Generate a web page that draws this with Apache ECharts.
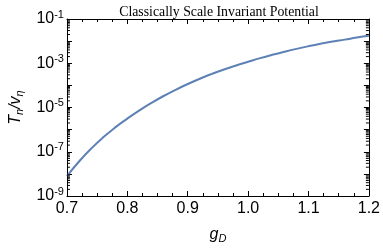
<!DOCTYPE html>
<html><head><meta charset="utf-8">
<script src="https://cdn.jsdelivr.net/npm/echarts@6/dist/echarts.min.js"></script>
<style>html,body{margin:0;padding:0;background:#fff}#c{width:383px;height:249px}</style>
</head><body><div id="c"></div>
<script>
const gD = [0.70,0.72,0.74,0.76,0.78,0.80,0.82,0.84,0.86,0.88,0.90,0.92,0.94,0.96,0.98,1.00,1.02,1.04,1.06,1.08,1.10,1.12,1.14,1.16,1.18,1.20];
const TnOverV = [7.94e-9,3.63e-8,1.38e-7,4.47e-7,1.26e-6,3.16e-6,7.41e-6,1.62e-5,3.31e-5,6.31e-5,1.15e-4,2.00e-4,3.31e-4,5.25e-4,7.94e-4,1.17e-3,1.70e-3,2.40e-3,3.31e-3,4.47e-3,5.89e-3,7.59e-3,9.55e-3,1.17e-2,1.45e-2,1.74e-2];
const xTicks = ['0.7','0.8','0.9','1.0','1.1','1.2'];
const yDecades = [-9,-8,-7,-6,-5,-4,-3,-2,-1];
const minorMult = [2,3,4,5,6,7,8,9];

const minorVals = [];
for (let i = 0; i < yDecades.length - 1; i++) for (const m of minorMult) minorVals.push([gD[0], m * Math.pow(10, yDecades[i])]);

const chart = echarts.init(document.getElementById('c'));
const labelFont = 'Liberation Sans';
chart.setOption({
  animation: false,
  title: {text: 'Classically Scale Invariant Potential', left: 214, textAlign: 'center', top: 0,
    textStyle: {fontFamily: 'Liberation Serif', fontSize: 13.8, fontWeight: 'normal', color: '#000'}},
  grid: {left: 53, right: 11, top: 19, bottom: 41},
  xAxis: [{
    type: 'value', min: 0.7, max: 1.2, interval: 0.1,
    axisLine: {show: true, onZero: false, lineStyle: {color: '#000', width: 1}},
    axisTick: {show: true, inside: true, length: 5, lineStyle: {color: '#000'}},
    minorTick: {show: true, splitNumber: 4, length: 3, lineStyle: {color: '#000'}},
    splitLine: {show: false},
    axisLabel: {margin: 5, fontFamily: labelFont, fontSize: 16, color: '#000',
      formatter: v => { const s = v.toFixed(1); return xTicks.includes(s) ? s : ''; }},
    name: '{i|g}{s|D}', nameLocation: 'middle', nameGap: 29,
    nameTextStyle: {rich: {i: {fontFamily: labelFont, fontStyle: 'italic', fontSize: 16, color: '#000'},
      s: {fontFamily: labelFont, fontStyle: 'italic', fontSize: 11, color: '#000', padding: [8, 0, 0, 0]}}}
  }, {
    type: 'value', position: 'top', min: 0.7, max: 1.2, interval: 0.1,
    axisLine: {show: true, onZero: false, lineStyle: {color: '#000', width: 1}},
    axisTick: {show: true, inside: true, length: 5, lineStyle: {color: '#000'}},
    minorTick: {show: true, splitNumber: 4, length: 3, lineStyle: {color: '#000'}},
    splitLine: {show: false}, axisLabel: {show: false}
  }],
  yAxis: [{
    type: 'log', logBase: 10, min: 1e-9, max: 1e-1, splitNumber: 8,
    axisLine: {show: true, onZero: false, lineStyle: {color: '#000', width: 1}},
    axisTick: {show: true, inside: true, length: 5, lineStyle: {color: '#000'}},
    splitLine: {show: false},
    axisLabel: {margin: 3, fontFamily: labelFont, fontSize: 16, color: '#000',
      formatter: v => { const e = Math.round(Math.log10(v)); return (e % 2 !== 0) ? '10{s|' + e + '}' : ''; },
      rich: {s: {fontFamily: labelFont, fontSize: 11, color: '#000', padding: [0, 0, 9, 0]}}},
    name: '{i|T}{s|n}{i|/v}{s|η}', nameLocation: 'middle', nameGap: 37, nameRotate: 90,
    nameTextStyle: {rich: {i: {fontFamily: labelFont, fontStyle: 'italic', fontSize: 16, color: '#000'},
      s: {fontFamily: labelFont, fontStyle: 'italic', fontSize: 11, color: '#000', padding: [8, 0, 0, 0]}}}
  }, {
    type: 'log', logBase: 10, min: 1e-9, max: 1e-1, splitNumber: 8, position: 'right',
    axisLine: {show: true, onZero: false, lineStyle: {color: '#000', width: 1}},
    axisTick: {show: true, inside: true, length: 5, lineStyle: {color: '#000'}},
    splitLine: {show: false}, axisLabel: {show: false}
  }],
  series: [{
    type: 'line', data: gD.map((g, i) => [g, TnOverV[i]]), showSymbol: false, smooth: true,
    lineStyle: {color: '#5E81B5', width: 2}, itemStyle: {color: '#5E81B5'}, z: 3
  }, {
    type: 'custom', data: minorVals, silent: true, z: 4,
    renderItem: (params, api) => {
      const v = api.value(1);
      const pl = api.coord([0.7, v]);
      const pr = api.coord([1.2, v]);
      return {type: 'group', children: [
        {type: 'line', shape: {x1: pl[0], y1: pl[1], x2: pl[0] + 3, y2: pl[1]}, style: {stroke: '#000', lineWidth: 1}},
        {type: 'line', shape: {x1: pr[0], y1: pr[1], x2: pr[0] - 3, y2: pr[1]}, style: {stroke: '#000', lineWidth: 1}}
      ]};
    }
  }]
});
</script></body></html>
